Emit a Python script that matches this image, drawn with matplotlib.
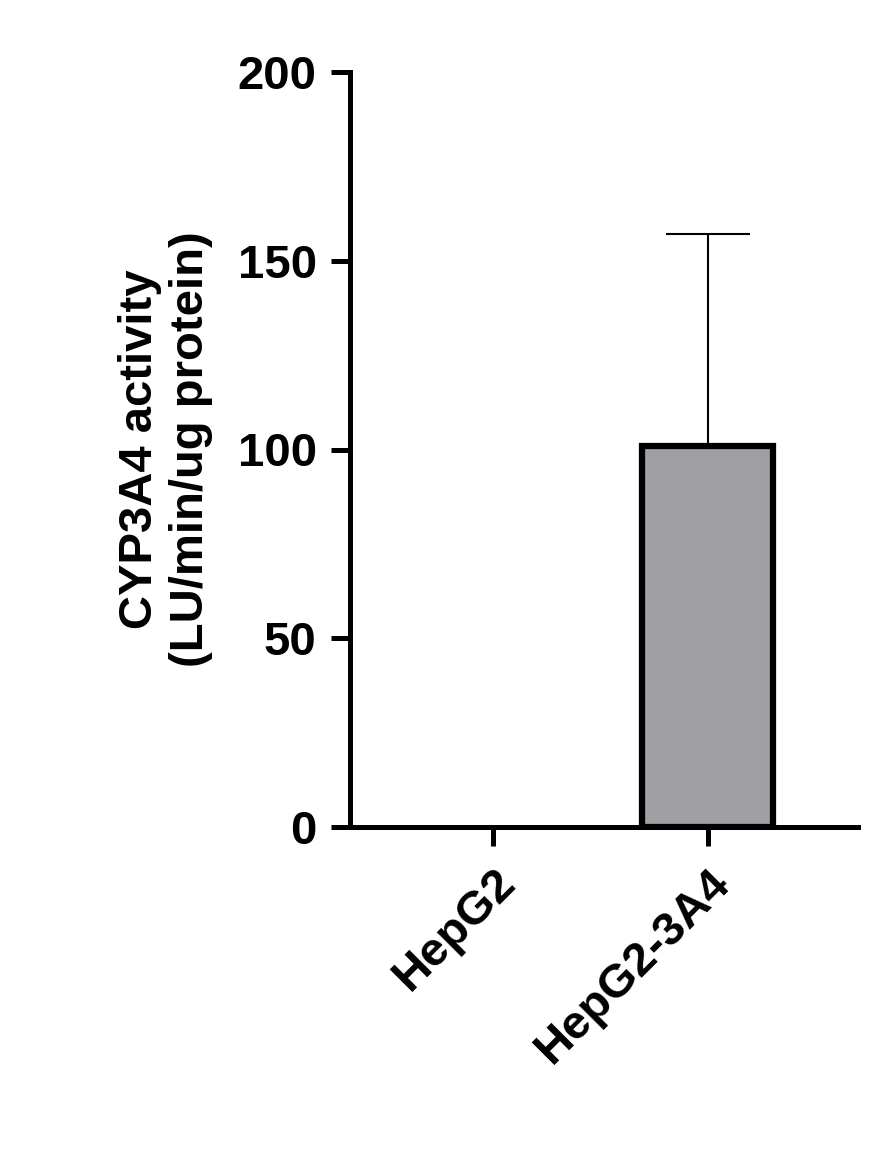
import matplotlib
matplotlib.use("Agg")
import matplotlib.pyplot as plt

categories = ["HepG2", "HepG2-3A4"]
values = [0, 101]
errors = [0, 56]

plt.rcParams['font.family'] = ['Liberation Sans', 'DejaVu Sans']
plt.rcParams['font.weight'] = 'bold'

fig = plt.figure(figsize=(8.84, 11.6), dpi=100)
ax = fig.add_axes([0.396, 0.287, 0.575, 0.651])
x = list(range(len(categories)))
lws = [4.5 if v > 0 else 0 for v in values]
ax.bar(x, values, width=0.61, color='#a0a0a4', edgecolor='black', linewidth=lws, zorder=2)
ax.errorbar(x, values, yerr=[[0]*len(errors), errors], fmt='none', ecolor='black',
            elinewidth=1.5, capsize=30, capthick=1.5, zorder=1)
ax.set_ylim(0, 200)
ax.set_xlim(-0.665, 1.70)
ax.set_yticks([0, 50, 100, 150, 200])
ax.set_xticks(x)
ax.set_xticklabels(categories, rotation=45, ha='right', rotation_mode='anchor')
ax.tick_params(axis='both', labelsize=34, width=3.6, length=14, pad=10)
for s in ['top', 'right']:
    ax.spines[s].set_visible(False)
for s in ['left', 'bottom']:
    ax.spines[s].set_linewidth(3.6)
ax.set_ylabel("CYP3A4 activity\n(LU/min/ug protein)", fontsize=34, fontweight='bold', labelpad=18)
fig.savefig("out.png", dpi=100)
